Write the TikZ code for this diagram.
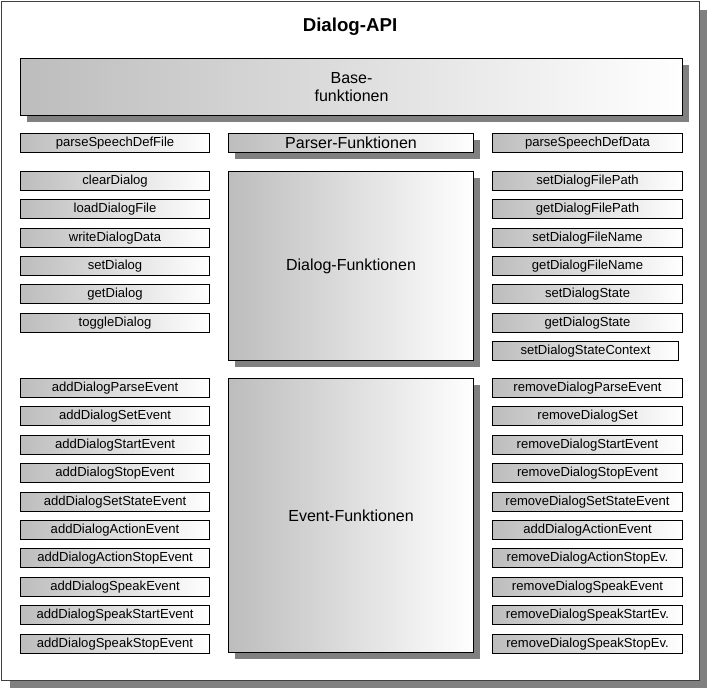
\documentclass[tikz,border=0pt]{standalone}
\usepackage{fontspec}
\setmainfont{Liberation Sans}
\usetikzlibrary{shadows}

\tikzset{
  fbox/.style={rectangle, draw=black, line width=0.8pt, left color=gray!52, right color=white,
    inner sep=0pt, anchor=north west, minimum height=14.25pt, font=\fontsize{9.8}{11}\selectfont},
  lbox/.style={fbox, minimum width=141.75pt},
  rbox/.style={fbox, minimum width=142.5pt},
  bigbox/.style={fbox, minimum width=183.75pt, font=\fontsize{12}{14}\selectfont,
    drop shadow={shadow xshift=4.5pt, shadow yshift=-4.5pt, fill=black!50, opacity=1}}
}

\begin{document}
\begin{tikzpicture}[x=0.75pt, y=-0.75pt]
		\useasboundingbox (0,0) rectangle (707,688);
		% outer frame
		\node[rectangle, draw=black!75, line width=0.9pt, fill=white, inner sep=0pt, anchor=north west,
		  minimum width=523.5pt, minimum height=509.25pt,
		  drop shadow={shadow xshift=6pt, shadow yshift=-6pt, fill=black!50, opacity=1}] (frame) at (1,1) {};
		\node[font=\fontsize{14}{16}\selectfont\bfseries] (title) at (350,27) {Dialog-API};
		\node[bigbox, minimum width=496.5pt, minimum height=42.75pt, align=center] (base) at (20,58) {Base-\\funktionen};

		% left column
		\node[lbox] (parseSpeechDefFile) at (20,133) {parseSpeechDefFile};
		\node[lbox] (clearDialog) at (20,171) {clearDialog};
		\node[lbox] (loadDialogFile) at (20,199.3) {loadDialogFile};
		\node[lbox] (writeDialogData) at (20,227.7) {writeDialogData};
		\node[lbox] (setDialog) at (20,256) {setDialog};
		\node[lbox] (getDialog) at (20,284.3) {getDialog};
		\node[lbox] (toggleDialog) at (20,312.7) {toggleDialog};
		\node[lbox] (addDialogParseEvent) at (20,378) {addDialogParseEvent};
		\node[lbox] (addDialogSetEvent) at (20,406.4) {addDialogSetEvent};
		\node[lbox] (addDialogStartEvent) at (20,434.8) {addDialogStartEvent};
		\node[lbox] (addDialogStopEvent) at (20,463.2) {addDialogStopEvent};
		\node[lbox] (addDialogSetStateEvent) at (20,491.6) {addDialogSetStateEvent};
		\node[lbox] (addDialogActionEvent) at (20,520) {addDialogActionEvent};
		\node[lbox] (addDialogActionStopEvent) at (20,548.4) {addDialogActionStopEvent};
		\node[lbox] (addDialogSpeakEvent) at (20,576.8) {addDialogSpeakEvent};
		\node[lbox] (addDialogSpeakStartEvent) at (20,605.2) {addDialogSpeakStartEvent};
		\node[lbox] (addDialogSpeakStopEvent) at (20,633.6) {addDialogSpeakStopEvent};

		% middle column
		\node[bigbox] (parser) at (228,133) {Parser-Funktionen};
		\node[bigbox, minimum height=141.75pt] (dialog) at (228,171) {Dialog-Funktionen};
		\node[bigbox, minimum height=205.5pt] (event) at (228,378) {Event-Funktionen};

		% right column
		\node[rbox] (parseSpeechDefData) at (492,133) {parseSpeechDefData};
		\node[rbox] (setDialogFilePath) at (492,171) {setDialogFilePath};
		\node[rbox] (getDialogFilePath) at (492,199.3) {getDialogFilePath};
		\node[rbox] (setDialogFileName) at (492,227.7) {setDialogFileName};
		\node[rbox] (getDialogFileName) at (492,256) {getDialogFileName};
		\node[rbox] (setDialogState) at (492,284.3) {setDialogState};
		\node[rbox] (getDialogState) at (492,312.7) {getDialogState};
		\node[rbox, minimum width=139.5pt] (setDialogStateContext) at (492,341) {setDialogStateContext};
		\node[rbox] (removeDialogParseEvent) at (492,378) {removeDialogParseEvent};
		\node[rbox] (removeDialogSet) at (492,406.4) {removeDialogSet};
		\node[rbox] (removeDialogStartEvent) at (492,434.8) {removeDialogStartEvent};
		\node[rbox] (removeDialogStopEvent) at (492,463.2) {removeDialogStopEvent};
		\node[rbox] (removeDialogSetStateEvent) at (492,491.6) {removeDialogSetStateEvent};
		\node[rbox] (rAddDialogActionEvent) at (492,520) {addDialogActionEvent};
		\node[rbox] (removeDialogActionStopEv) at (492,548.4) {removeDialogActionStopEv.};
		\node[rbox] (removeDialogSpeakEvent) at (492,576.8) {removeDialogSpeakEvent};
		\node[rbox] (removeDialogSpeakStartEv) at (492,605.2) {removeDialogSpeakStartEv.};
		\node[rbox] (removeDialogSpeakStopEv) at (492,633.6) {removeDialogSpeakStopEv.};
	\end{tikzpicture}
\end{document}
